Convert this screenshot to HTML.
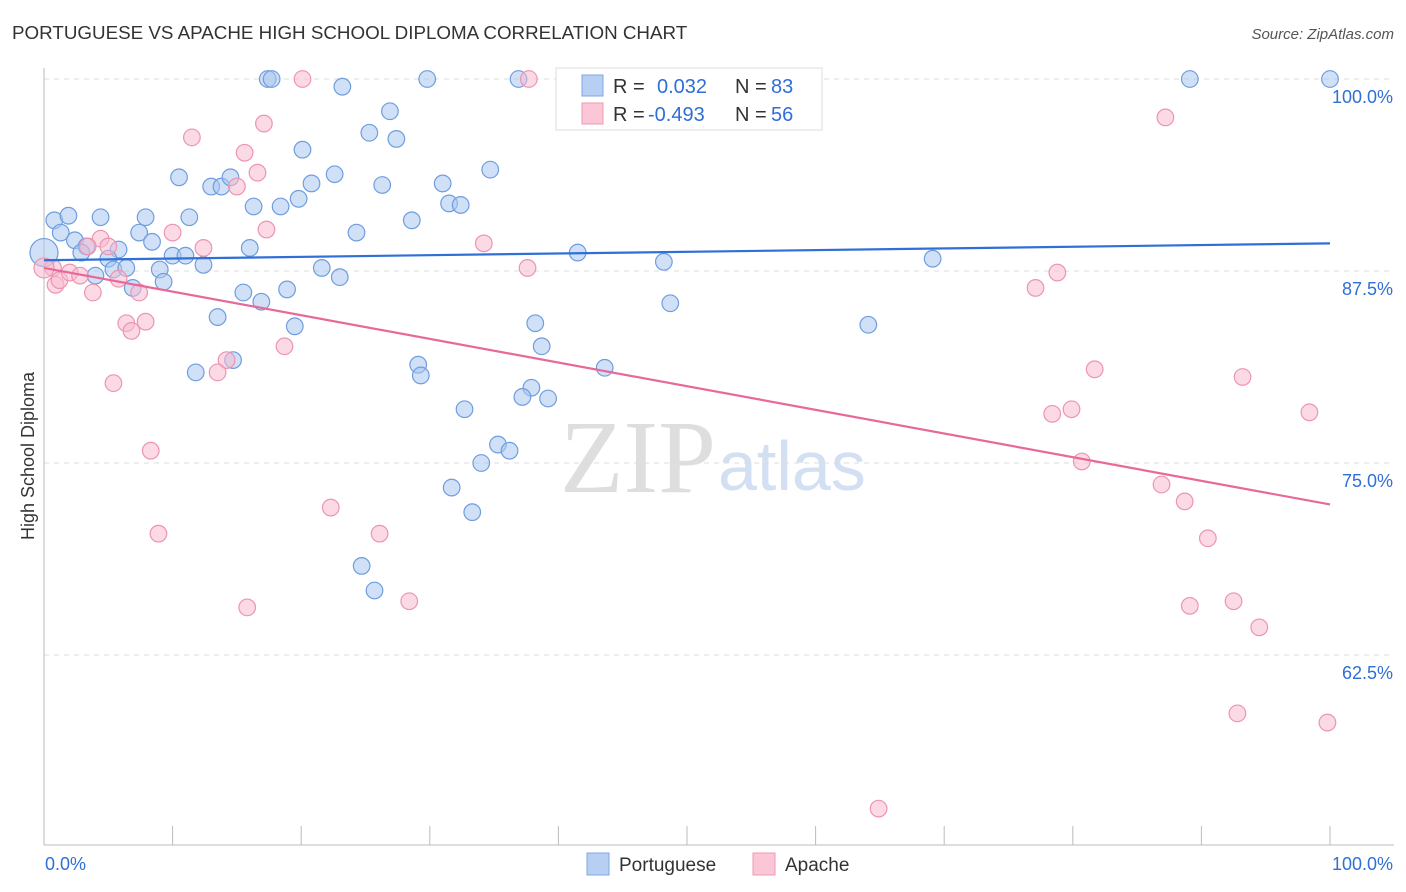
<!DOCTYPE html>
<html><head><meta charset="utf-8"><style>
body{margin:0;background:#fff;font-family:"Liberation Sans",sans-serif;}
#wrap{position:relative;width:1406px;height:892px;overflow:hidden;}
</style></head><body>
<div id="wrap">
<svg id="svg" width="1406" height="892" xmlns="http://www.w3.org/2000/svg" style="position:absolute;left:0;top:0">
<text x="12" y="39" font-size="18.8" fill="#333">PORTUGUESE VS APACHE HIGH SCHOOL DIPLOMA CORRELATION CHART</text>
<text x="1394" y="39" font-size="15" fill="#555" font-style="italic" text-anchor="end">Source: ZipAtlas.com</text>
<text x="716" y="492" font-size="104" fill="#dedede" text-anchor="end" font-family="Liberation Serif">ZIP</text>
<text x="718" y="490" font-size="70" fill="#d3e0f3">atlas</text>
<text transform="translate(34,456) rotate(-90)" font-size="18" fill="#333" text-anchor="middle">High School Diploma</text>
<g id="grid"></g><g id="axes"></g><g id="pts"></g><g id="trend"></g>
<g>
<rect x="556" y="68" width="266" height="62" fill="#fff" stroke="#ddd"/>
<rect x="582" y="75" width="21" height="21" fill="#b6cff3" stroke="#7fa7e3"/>
<rect x="582" y="103" width="21" height="21" fill="#fbc6d6" stroke="#ef9ab5"/>
<text x="613" y="93" font-size="20" fill="#333">R =</text>
<text x="657" y="93" font-size="20" fill="#2f6fd6">0.032</text>
<text x="735" y="93" font-size="20" fill="#333">N =</text>
<text x="771" y="93" font-size="20" fill="#2f6fd6">83</text>
<text x="613" y="121" font-size="20" fill="#333">R =</text>
<text x="648" y="121" font-size="20" fill="#2f6fd6">-0.493</text>
<text x="735" y="121" font-size="20" fill="#333">N =</text>
<text x="771" y="121" font-size="20" fill="#2f6fd6">56</text>
</g>
<g>
<rect x="587" y="853" width="22" height="22" fill="#b6cff3" stroke="#7fa7e3"/>
<text x="619" y="871" font-size="19" fill="#333">Portuguese</text>
<rect x="753" y="853" width="22" height="22" fill="#fbc6d6" stroke="#ef9ab5"/>
<text x="785" y="871" font-size="19" fill="#333">Apache</text>
</g>
</svg>
</div>
<script>
const yTicks=[100,87.5,75,62.5];
const yTickLabels=["100.0%","87.5%","75.0%","62.5%"];
const xTickLabels=["0.0%","100.0%"];
const blueX=[17.4,17.7,23.2,29.8,36.9,45.5,51.4,89.1,100,26.9,25.3,27.4,20.1,10.5,13.0,13.8,14.5,20.8,22.6,26.3,31.0,34.7,19.8,16.3,18.4,31.5,32.4,28.6,0.8,1.9,4.4,7.9,11.3,1.3,7.4,24.3,2.4,3.3,5.8,8.4,16.0,2.9,5.0,10.0,11.0,12.4,41.5,48.2,69.1,5.4,6.4,9.0,21.6,23.0,4.0,9.3,6.9,15.5,16.9,18.9,48.7,13.5,19.5,38.2,64.1,38.7,14.7,11.8,29.1,29.3,43.6,37.9,37.2,39.2,32.7,35.3,36.2,34.0,31.7,33.3,24.7,25.7,0];
const blueY=[100,100,99.5,100,100,100,99.6,100,100,97.9,96.5,96.1,95.4,93.6,93.0,93.0,93.6,93.2,93.8,93.1,93.2,94.1,92.2,91.7,91.7,91.9,91.8,90.8,90.8,91.1,91.0,91.0,91.0,90.0,90.0,90.0,89.5,89.1,88.9,89.4,89.0,88.7,88.3,88.5,88.5,87.9,88.7,88.1,88.3,87.6,87.7,87.6,87.7,87.1,87.2,86.8,86.4,86.1,85.5,86.3,85.4,84.5,83.9,84.1,84.0,82.6,81.7,80.9,81.4,80.7,81.2,79.9,79.3,79.2,78.5,76.2,75.8,75.0,73.4,71.8,68.3,66.7,88.7];
const pinkX=[20.1,37.7,87.2,11.5,17.1,15.6,16.6,15.0,10.0,12.4,17.3,4.4,5.0,3.4,34.2,0.7,0.9,1.2,2.0,2.8,5.8,7.4,3.8,37.6,77.1,78.8,6.4,7.9,6.8,18.7,14.2,13.5,5.4,81.7,93.2,79.9,78.4,98.4,8.3,80.7,86.9,88.7,22.3,26.1,90.5,8.9,15.8,28.4,89.1,92.5,94.5,92.8,99.8,64.9,0];
const pinkY=[100,100,97.5,96.2,97.1,95.2,93.9,93.0,90.0,89.0,90.2,89.6,89.1,89.1,89.3,87.7,86.6,86.9,87.4,87.2,87.0,86.1,86.1,87.7,86.4,87.4,84.1,84.2,83.6,82.6,81.7,80.9,80.2,81.1,80.6,78.5,78.2,78.3,75.8,75.1,73.6,72.5,72.1,70.4,70.1,70.4,65.6,66.0,65.7,66.0,64.3,58.7,58.1,52.5,87.7];
const blueTrend=[88.2,89.3];
const pinkTrend=[87.7,72.3];
const NS="http://www.w3.org/2000/svg";
const X=v=>44+v*12.86, Y=v=>79+(100-v)*15.36;
function mk(t,a,p){const e=document.createElementNS(NS,t);for(const k in a)e.setAttribute(k,a[k]);p.appendChild(e);return e;}
const grid=document.getElementById('grid'),axes=document.getElementById('axes'),pts=document.getElementById('pts'),tr=document.getElementById('trend');
yTicks.forEach((t,i)=>{
 const l=mk('line',{x1:44,x2:1394,y1:Y(t),y2:Y(t),stroke:'#ddd','stroke-dasharray':'5,5'},grid);
 
 
 const tx=mk('text',{x:1393,y:Y(t)+24,'font-size':18,fill:'#2f6fd6','text-anchor':'end'},axes);
 tx.textContent=yTickLabels[i];
 
 
});
mk('line',{x1:44,x2:44,y1:68,y2:845,stroke:'#bbb'},axes);
mk('line',{x1:44,x2:1394,y1:845,y2:845,stroke:'#bbb'},axes);
for(let i=0;i<=10;i++){mk('line',{x1:X(i*10),x2:X(i*10),y1:826,y2:845,stroke:'#bbb'},axes);}
const xl0=mk('text',{x:45,y:870,'font-size':18,fill:'#2f6fd6'},axes);xl0.textContent=xTickLabels[0];


const xl1=mk('text',{x:1393,y:870,'font-size':18,fill:'#2f6fd6','text-anchor':'end'},axes);xl1.textContent=xTickLabels[1];


function dots(xs,ys,fill,stroke,name,bigR){xs.forEach((x,i)=>{
 const big=(x===0);
 const c=mk('circle',{cx:X(x),cy:Y(ys[i]),r:big?bigR:8.3,fill:fill,'fill-opacity':0.55,stroke:stroke,'stroke-width':1.2},pts);
 
 
});}
dots(blueX,blueY,'#a9c6ee','#6f9de0','portuguese-point',14);
dots(pinkX,pinkY,'#f8bccf','#ee94b0','apache-point',10);
const bl=mk('line',{x1:X(0),x2:X(100),y1:Y(blueTrend[0]),y2:Y(blueTrend[1]),stroke:'#2f6fd6','stroke-width':2.2},tr);


const pl=mk('line',{x1:X(0),x2:X(100),y1:Y(pinkTrend[0]),y2:Y(pinkTrend[1]),stroke:'#e8689a','stroke-width':2.2},tr);


</script>
</body></html>
